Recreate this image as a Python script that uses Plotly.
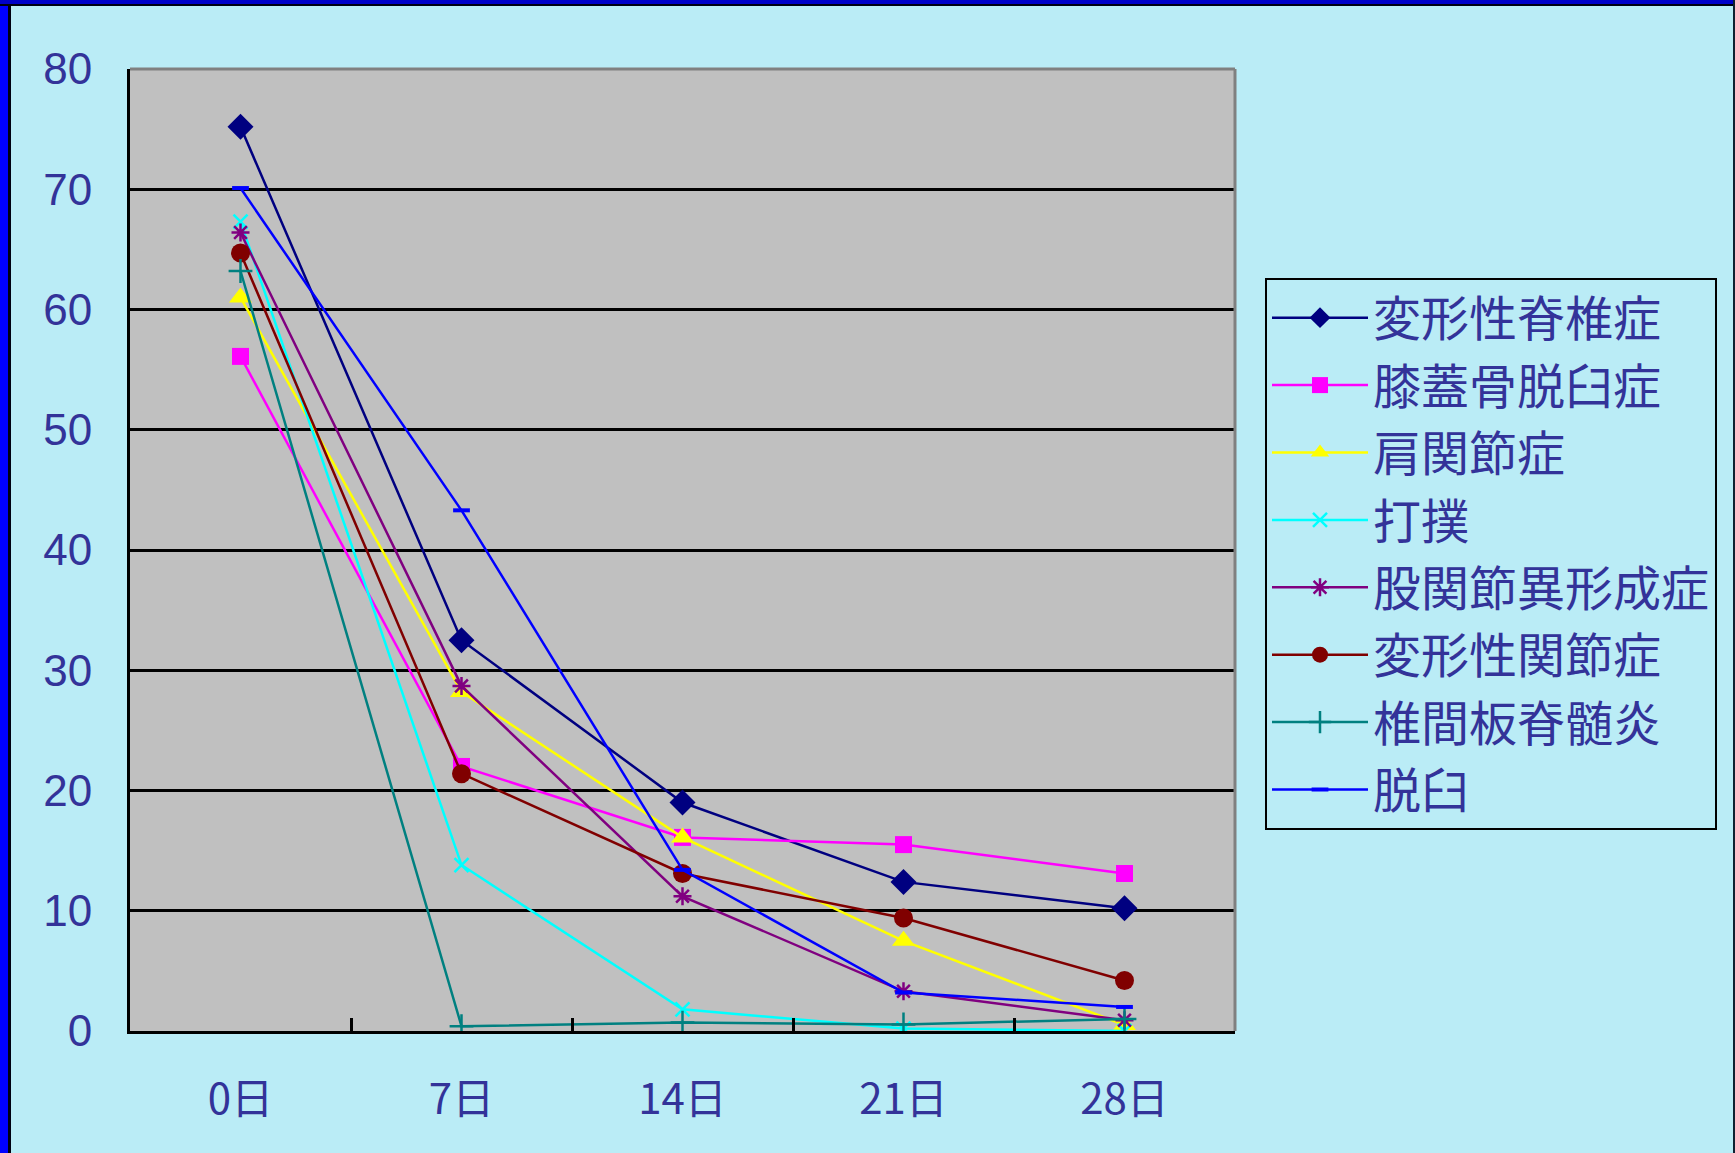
import plotly.graph_objects as go

# Days after treatment start (category axis)
days = ["0日", "7日", "14日", "21日", "28日"]

# Symptom score per condition
spondylosis = [75.2, 32.5, 19.0, 12.4, 10.2]        # 変形性脊椎症
patellar_lux = [56.1, 22.0, 16.1, 15.5, 13.1]       # 膝蓋骨脱臼症
shoulder = [61.0, 28.2, 16.1, 7.5, 0.5]             # 肩関節症
bruise = [67.3, 13.8, 1.8, 0.2, 0.0]                # 打撲
hip_dysplasia = [66.4, 28.7, 11.2, 3.3, 0.9]        # 股関節異形成症
osteoarthritis = [64.7, 21.4, 13.1, 9.4, 4.2]       # 変形性関節症
discospondylitis = [63.2, 0.4, 0.7, 0.55, 1.0]      # 椎間板脊髄炎
luxation = [70.1, 43.3, 13.4, 3.2, 2.0]             # 脱臼

y_ticks = [0, 10, 20, 30, 40, 50, 60, 70, 80]

W, H = 1735, 1153
ML, MR, MT, MB = 130, 500, 69, 122
PW, PH = W - ML - MR, H - MT - MB

TEXT = "#333399"
FONT = "Noto Sans CJK JP"

series = [
    ("変形性脊椎症", spondylosis, "#000080", dict(symbol="diamond", size=20, color="#000080")),
    ("膝蓋骨脱臼症", patellar_lux, "#FF00FF", dict(symbol="square", size=17, color="#FF00FF")),
    ("肩関節症", shoulder, "#FFFF00", dict(symbol="triangle-up", size=20, color="#FFFF00")),
    ("打撲", bruise, "#00FFFF", dict(symbol="x-thin-open", size=14, color="#00FFFF",
                                    line=dict(width=2.5, color="#00FFFF"))),
    ("股関節異形成症", hip_dysplasia, "#800080", dict(symbol="asterisk-open", size=15, color="#800080",
                                               line=dict(width=2.5, color="#800080"))),
    ("変形性関節症", osteoarthritis, "#800000", dict(symbol="circle", size=19, color="#800000")),
    ("椎間板脊髄炎", discospondylitis, "#008080", dict(symbol="cross-thin-open", size=17, color="#008080",
                                                line=dict(width=2.5, color="#008080"))),
    ("脱臼", luxation, "#0000FF", dict(symbol="line-ew-open", size=12, color="#0000FF",
                                    line=dict(width=4, color="#0000FF"))),
]

fig = go.Figure()
for i, (name, vals, color, marker) in enumerate(series):
    fig.add_trace(go.Scatter(
        x=days, y=vals, name=name, mode="lines+markers",
        line=dict(color=color, width=2.5),
        marker=marker,
        legendgroup=f"g{i}",
    ))


def px_x(p):
    return (p - ML) / PW


def px_y(p):
    return (H - MB - p) / PH


shapes = [
    # top edge of plot area and right edge drawn in grey
    dict(type="line", xref="paper", yref="paper", x0=0, x1=1, y0=1, y1=1,
         line=dict(color="#808080", width=3), layer="above"),
    dict(type="line", xref="paper", yref="paper", x0=1, x1=1, y0=0, y1=1,
         line=dict(color="#808080", width=3), layer="above"),
    # outer slide frame: blue band with dark inner rule
    dict(type="rect", xref="paper", yref="paper", x0=px_x(0), x1=px_x(8),
         y0=px_y(H), y1=px_y(0), fillcolor="#0000FF", line=dict(width=0), layer="above"),
    dict(type="rect", xref="paper", yref="paper", x0=px_x(8), x1=px_x(11),
         y0=px_y(H), y1=px_y(0), fillcolor="#000010", line=dict(width=0), layer="above"),
    dict(type="rect", xref="paper", yref="paper", x0=px_x(0), x1=px_x(W),
         y0=px_y(4), y1=px_y(0), fillcolor="#0000C8", line=dict(width=0), layer="above"),
    dict(type="rect", xref="paper", yref="paper", x0=px_x(0), x1=px_x(W),
         y0=px_y(6), y1=px_y(4), fillcolor="#000010", line=dict(width=0), layer="above"),
    dict(type="rect", xref="paper", yref="paper", x0=px_x(W - 2), x1=px_x(W),
         y0=px_y(H), y1=px_y(0), fillcolor="#102030", line=dict(width=0), layer="above"),
]

fig.update_layout(
    width=W, height=H,
    margin=dict(l=ML, r=MR, t=MT, b=MB, autoexpand=False),
    paper_bgcolor="#BAECF6",
    plot_bgcolor="#C0C0C0",
    font=dict(family=FONT, color=TEXT),
    showlegend=True,
    legend=dict(
        x=px_x(1265), y=px_y(278), xanchor="left", yanchor="top",
        bgcolor="rgba(0,0,0,0)", bordercolor="#000000", borderwidth=2,
        font=dict(family=FONT, size=48, color=TEXT),
        itemwidth=96, tracegroupgap=2, traceorder="grouped",
    ),
    xaxis=dict(
        type="category", categoryorder="array", categoryarray=days,
        range=[-0.5, len(days) - 0.5],
        showline=True, linecolor="#000000", linewidth=3,
        showgrid=False, zeroline=False,
        ticks="inside", tickson="boundaries", ticklen=13, tickwidth=2.5, tickcolor="#000000",
        tickfont=dict(family=FONT, size=42, color=TEXT),
        ticklabelstandoff=30,
    ),
    yaxis=dict(
        range=[0, 80], tickvals=y_ticks,
        showline=True, linecolor="#000000", linewidth=3,
        showgrid=True, gridcolor="#000000", gridwidth=3,
        zeroline=False,
        ticks="inside", ticklen=12, tickwidth=3, tickcolor="#000000",
        tickfont=dict(family="Liberation Sans", size=44, color=TEXT),
        ticklabelstandoff=26,
    ),
    shapes=shapes,
)

fig.write_html("out.html")
